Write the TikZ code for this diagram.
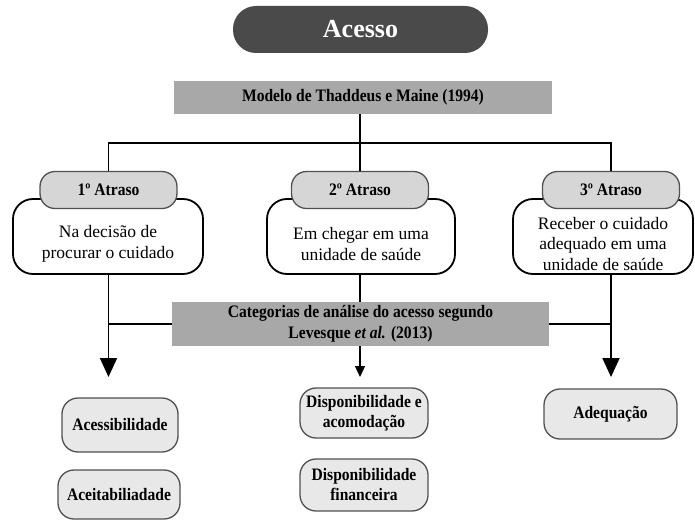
\documentclass[tikz,border=0pt]{standalone}
\usepackage{fontspec}
\setmainfont{Liberation Serif}
\newfontfamily\hdfont{Liberation Serif}[FakeStretch=0.89]
\usetikzlibrary{arrows.meta}
\definecolor{pilldark}{HTML}{4A4A4A}
\definecolor{hdrgray}{HTML}{A8A8A8}
\definecolor{tabgray}{HTML}{D6D6D6}
\definecolor{catgray}{HTML}{E8E8E8}
\definecolor{edgegray}{HTML}{505050}
\newcommand{\dropstrut}{\rule{0pt}{27pt}}
\begin{document}
\begin{tikzpicture}[x=1pt,y=-1pt,
 pill/.style={fill=pilldark, rounded corners=23pt, minimum width=255pt, minimum height=47pt, text=white, font=\fontsize{26}{30}\selectfont\bfseries},
 header/.style={fill=hdrgray, font=\hdfont\fontsize{17.5}{21}\selectfont\bfseries, align=center, inner sep=0pt},
 tabbox/.style={draw=edgegray, line width=1.3pt, fill=tabgray, rounded corners=15pt, minimum width=137pt, minimum height=37pt, font=\hdfont\fontsize{17.5}{20}\selectfont\bfseries},
 delaybox/.style={draw=black, line width=1.8pt, fill=white, rounded corners=20pt, minimum height=75pt, align=center, font=\fontsize{17.5}{20.5}\selectfont},
 catbox/.style={draw=edgegray, line width=1.3pt, fill=catgray, rounded corners=16pt, align=center, font=\hdfont\fontsize{17.5}{20}\selectfont\bfseries, inner sep=2pt},
 conn/.style={line width=1.8pt},
 bigarrow/.style={conn, -{Triangle[width=17pt,length=19pt]}},
 smallarrow/.style={line width=1.3pt, -{Triangle[width=10pt,length=11pt]}}
]
\useasboundingbox (0,0) rectangle (695,521);

\node[pill] (acesso) at (360.5,29.5) {Acesso};
\node[header, minimum width=378pt, minimum height=33pt] (modelo) at (363,97.5) {Modelo de Thaddeus e Maine (1994)};

\node[delaybox, minimum width=190pt] (d1) at (108,236.5) {\dropstrut Na decisão de\\procurar o cuidado};
\node[delaybox, minimum width=188pt] (d2) at (361,236.5) {\dropstrut Em chegar em uma\\unidade de saúde};
\node[delaybox, minimum width=180pt] (d3) at (603,236.5) {\dropstrut Receber o cuidado\\adequado em uma\\unidade de saúde};

\node[tabbox] (t1) at (108.5,190) {1º Atraso};
\node[tabbox] (t2) at (360,190) {2º Atraso};
\node[tabbox] (t3) at (611,190) {3º Atraso};

\coordinate (bar) at (0,143);
\draw[conn] (t2.north |- modelo.south) -- (t2.north);
\draw[conn] (t1.north) -- (t1.north |- bar) -| (t3.north);

\node[header, minimum width=377pt, minimum height=44pt] (cat) at (360.5,324) {Categorias de análise do acesso segundo\\Levesque \textit{et al.} (2013)};

\coordinate (tip) at (0,377);
\draw[bigarrow] (t1.north |- d1.south) -- (t1.north |- tip);
\draw[conn] (t1.north |- cat.west) -- (cat.west);
\draw[bigarrow] (t3.north |- d3.south) -- (t3.north |- tip);
\draw[conn] (cat.east) -- (t3.north |- cat.east);
\draw[conn] (t2.north |- d2.south) -- (t2.north |- cat.north);
\draw[smallarrow] (t2.north |- cat.south) -- (t2.north |- tip);

\node[catbox, minimum width=116pt, minimum height=54pt] (acess) at (120,425) {Acessibilidade};
\node[catbox, minimum width=122pt, minimum height=49pt] (aceit) at (119,494.5) {Aceitabiliadade};
\node[catbox, minimum width=128pt, minimum height=50pt] (disp) at (364,413) {Disponibilidade e\\acomodação};
\node[catbox, minimum width=128pt, minimum height=52pt] (fin) at (364,485) {Disponibilidade\\financeira};
\node[catbox, minimum width=133pt, minimum height=50pt] (adeq) at (610.5,414) {Adequação};
\end{tikzpicture}
\end{document}
